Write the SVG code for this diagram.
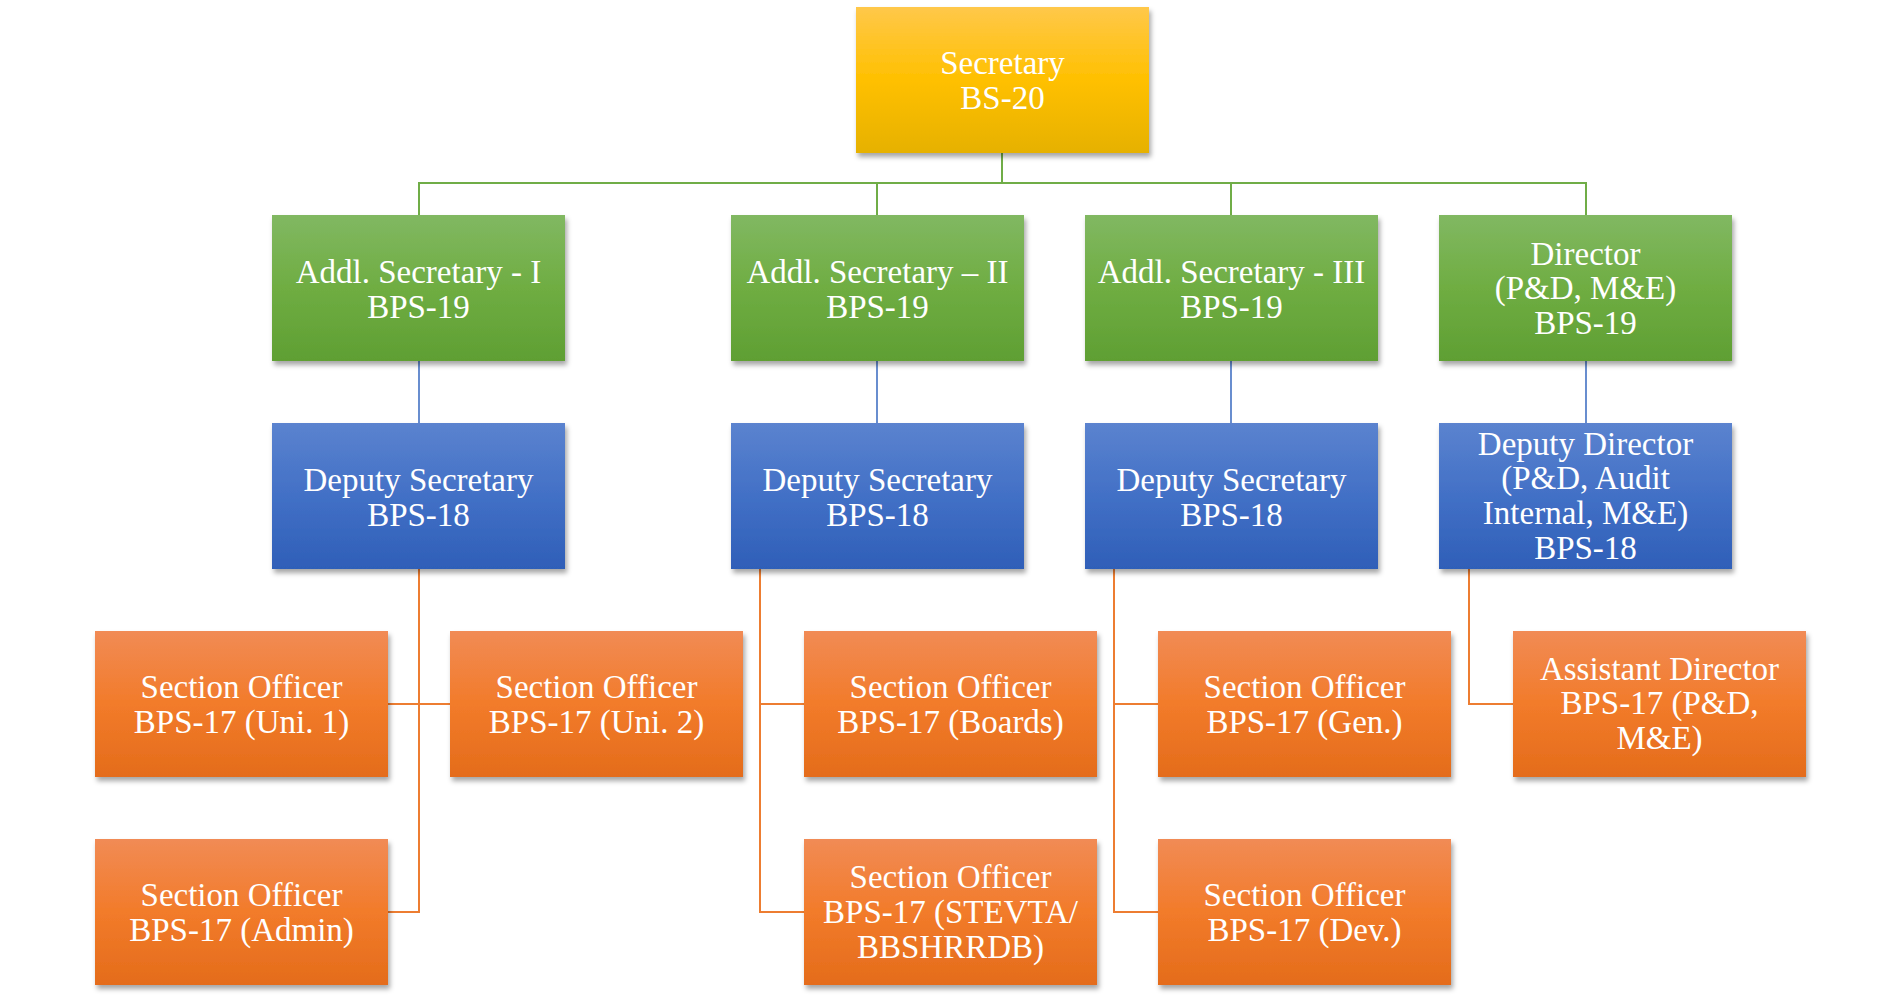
<svg xmlns="http://www.w3.org/2000/svg" width="1901" height="998" viewBox="0 0 1901 998">
<style>
.box{filter:url(#sh)}
.t{font-family:"Liberation Serif","Times New Roman",serif;font-size:33px;fill:#ffffff;text-anchor:middle;transform:translateY(1.5px)}
.cg{stroke:#70AD47;stroke-width:2;fill:none}
.cb{stroke:#4472C4;stroke-width:1.6;fill:none}
.co{stroke:#ED7D31;stroke-width:2;fill:none}
</style>
<defs>
<filter id="sh" x="-10%" y="-10%" width="125%" height="130%">
<feDropShadow dx="2" dy="4" stdDeviation="2.5" flood-color="#000" flood-opacity="0.35"/>
</filter>
<linearGradient id="gGold" x1="0" y1="0" x2="0" y2="1">
<stop offset="0" stop-color="#FFC84A"/><stop offset="0.5" stop-color="#FFC000"/><stop offset="1" stop-color="#E6B100"/>
</linearGradient>
<linearGradient id="gGreen" x1="0" y1="0" x2="0" y2="1">
<stop offset="0" stop-color="#81B862"/><stop offset="0.5" stop-color="#6FAD42"/><stop offset="1" stop-color="#5F9F33"/>
</linearGradient>
<linearGradient id="gBlue" x1="0" y1="0" x2="0" y2="1">
<stop offset="0" stop-color="#5B83CF"/><stop offset="0.5" stop-color="#4270C6"/><stop offset="1" stop-color="#2F5FB8"/>
</linearGradient>
<linearGradient id="gOrange" x1="0" y1="0" x2="0" y2="1">
<stop offset="0" stop-color="#F18B55"/><stop offset="0.5" stop-color="#F27B2A"/><stop offset="1" stop-color="#E46C1B"/>
</linearGradient>
</defs>
<rect width="1901" height="998" fill="#ffffff"/>
<g id="connectors">
<path class="cg" d="M1002,153 V183 M419,215 V183 H1586 V215 M877,183 V215 M1231,183 V215"/>
<path class="cb" d="M419,361 V423 M877,361 V423 M1231,361 V423 M1586,361 V423"/>
<path class="co" d="M419,569 V912 H388 M388,704 H450"/>
<path class="co" d="M760,569 V912 H804 M760,704 H804"/>
<path class="co" d="M1114,569 V912 H1158 M1114,704 H1158"/>
<path class="co" d="M1469,569 V704 H1513"/>
</g>
<g id="secretary"><rect class="box" x="856" y="7" width="293" height="146" fill="url(#gGold)"/>
<text class="t" x="1002.5" y="72">Secretary<tspan x="1002.5" dy="35">BS-20</tspan></text></g>
<g id="addl-sec-1"><rect class="box" x="272" y="215" width="293" height="146" fill="url(#gGreen)"/>
<text class="t" x="418.5" y="281">Addl. Secretary - I<tspan x="418.5" dy="35">BPS-19</tspan></text></g>
<g id="addl-sec-2"><rect class="box" x="731" y="215" width="293" height="146" fill="url(#gGreen)"/>
<text class="t" x="877.5" y="281">Addl. Secretary – II<tspan x="877.5" dy="35">BPS-19</tspan></text></g>
<g id="addl-sec-3"><rect class="box" x="1085" y="215" width="293" height="146" fill="url(#gGreen)"/>
<text class="t" x="1231.5" y="281">Addl. Secretary - III<tspan x="1231.5" dy="35">BPS-19</tspan></text></g>
<g id="director"><rect class="box" x="1439" y="215" width="293" height="146" fill="url(#gGreen)"/>
<text class="t" x="1585.5" y="263">Director<tspan x="1585.5" dy="34.5">(P&amp;D, M&amp;E)</tspan><tspan x="1585.5" dy="34.5">BPS-19</tspan></text></g>
<g id="dep-sec-1"><rect class="box" x="272" y="423" width="293" height="146" fill="url(#gBlue)"/>
<text class="t" x="418.5" y="489">Deputy Secretary<tspan x="418.5" dy="35">BPS-18</tspan></text></g>
<g id="dep-sec-2"><rect class="box" x="731" y="423" width="293" height="146" fill="url(#gBlue)"/>
<text class="t" x="877.5" y="489">Deputy Secretary<tspan x="877.5" dy="35">BPS-18</tspan></text></g>
<g id="dep-sec-3"><rect class="box" x="1085" y="423" width="293" height="146" fill="url(#gBlue)"/>
<text class="t" x="1231.5" y="489">Deputy Secretary<tspan x="1231.5" dy="35">BPS-18</tspan></text></g>
<g id="dep-director"><rect class="box" x="1439" y="423" width="293" height="146" fill="url(#gBlue)"/>
<text class="t" x="1585.5" y="453">Deputy Director<tspan x="1585.5" dy="34.7">(P&amp;D, Audit</tspan><tspan x="1585.5" dy="34.7">Internal, M&amp;E)</tspan><tspan x="1585.5" dy="34.7">BPS-18</tspan></text></g>
<g id="so-uni1"><rect class="box" x="95" y="631" width="293" height="146" fill="url(#gOrange)"/>
<text class="t" x="241.5" y="696">Section Officer<tspan x="241.5" dy="35">BPS-17 (Uni. 1)</tspan></text></g>
<g id="so-uni2"><rect class="box" x="450" y="631" width="293" height="146" fill="url(#gOrange)"/>
<text class="t" x="596.5" y="696">Section Officer<tspan x="596.5" dy="35">BPS-17 (Uni. 2)</tspan></text></g>
<g id="so-boards"><rect class="box" x="804" y="631" width="293" height="146" fill="url(#gOrange)"/>
<text class="t" x="950.5" y="696">Section Officer<tspan x="950.5" dy="35">BPS-17 (Boards)</tspan></text></g>
<g id="so-gen"><rect class="box" x="1158" y="631" width="293" height="146" fill="url(#gOrange)"/>
<text class="t" x="1304.5" y="696">Section Officer<tspan x="1304.5" dy="35">BPS-17 (Gen.)</tspan></text></g>
<g id="asst-director"><rect class="box" x="1513" y="631" width="293" height="146" fill="url(#gOrange)"/>
<text class="t" x="1659.5" y="678">Assistant Director<tspan x="1659.5" dy="34.5">BPS-17 (P&amp;D,</tspan><tspan x="1659.5" dy="34.5">M&amp;E)</tspan></text></g>
<g id="so-admin"><rect class="box" x="95" y="839" width="293" height="146" fill="url(#gOrange)"/>
<text class="t" x="241.5" y="904">Section Officer<tspan x="241.5" dy="35">BPS-17 (Admin)</tspan></text></g>
<g id="so-stevta"><rect class="box" x="804" y="839" width="293" height="146" fill="url(#gOrange)"/>
<text class="t" x="950.5" y="886">Section Officer<tspan x="950.5" dy="35">BPS-17 (STEVTA/</tspan><tspan x="950.5" dy="35">BBSHRRDB)</tspan></text></g>
<g id="so-dev"><rect class="box" x="1158" y="839" width="293" height="146" fill="url(#gOrange)"/>
<text class="t" x="1304.5" y="904">Section Officer<tspan x="1304.5" dy="35">BPS-17 (Dev.)</tspan></text></g>
</svg>
